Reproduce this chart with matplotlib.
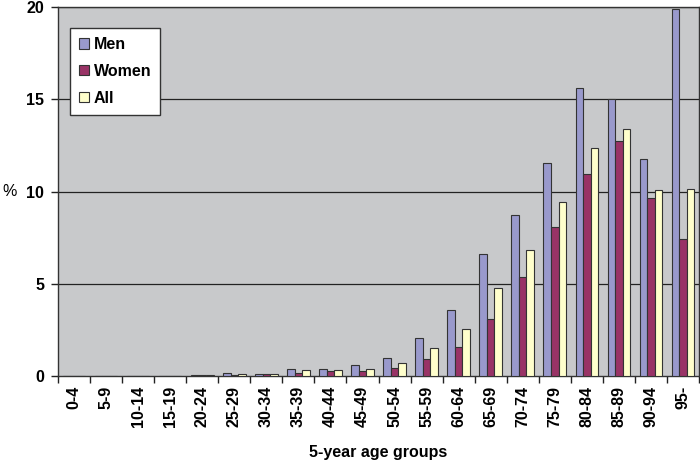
import matplotlib
matplotlib.use("Agg")
import matplotlib.pyplot as plt
import numpy as np

categories = ["0-4", "5-9", "10-14", "15-19", "20-24", "25-29", "30-34", "35-39",
              "40-44", "45-49", "50-54", "55-59", "60-64", "65-69", "70-74",
              "75-79", "80-84", "85-89", "90-94", "95-"]
men = [0, 0, 0, 0, 0.05, 0.15, 0.1, 0.38, 0.38, 0.58, 0.98, 2.08, 3.58, 6.62,
       8.71, 11.53, 15.62, 15.0, 11.75, 19.9]
women = [0, 0, 0, 0, 0.03, 0.05, 0.1, 0.15, 0.25, 0.25, 0.43, 0.92, 1.58, 3.07,
         5.37, 8.05, 10.95, 12.75, 9.65, 7.4]
all_ = [0, 0, 0, 0, 0.04, 0.1, 0.12, 0.31, 0.31, 0.36, 0.69, 1.53, 2.57, 4.79,
        6.83, 9.42, 12.37, 13.37, 10.08, 10.16]
series_names = ["Men", "Women", "All"]
yticks = [0, 5, 10, 15, 20]

plt.rcParams['font.family'] = ['Liberation Sans', 'DejaVu Sans']
FS = 11.5

fig = plt.figure(figsize=(7, 4.63), dpi=100)
ax = fig.add_axes([58/700, 87/463, 641/700, 369/463])
ax.set_facecolor("#C8C9CB")

x = np.arange(len(categories))
w = 0.235
colors = ["#9999CC", "#993366", "#FFFFCC"]
for i, (vals, name) in enumerate(zip([men, women, all_], series_names)):
    ax.bar(x + (i - 1) * w, vals, width=w, color=colors[i], edgecolor="#333333",
           linewidth=0.8, label=name, zorder=3)

ax.set_xlim(-0.5, len(categories) - 0.5)
ax.set_ylim(0, 20)
ax.set_yticks(yticks)
ax.set_yticklabels([str(v) for v in yticks], fontsize=FS, fontweight="bold")
for v in yticks[1:]:
    ax.axhline(v, color="#222222", linewidth=0.9, zorder=1)

ax.set_xticks(x)
ax.set_xticklabels(categories, rotation=90, fontsize=FS, fontweight="bold")
ax.tick_params(axis="x", which="major", length=0, pad=7)
ax.set_xticks(np.arange(-0.5, len(categories)), minor=True)
ax.tick_params(axis="x", which="minor", length=5, width=1, color="#222222")
ax.tick_params(axis="y", length=5, width=1, color="#222222", pad=5)

for s in ["left", "bottom", "top", "right"]:
    ax.spines[s].set_color("#333333")
    ax.spines[s].set_linewidth(1)

fig.text(378/700, 1 - 452/463, "5-year age groups", fontsize=FS,
         fontweight="bold", ha="center", va="center")
fig.text(10/700, 1 - 191/463, "%", fontsize=FS, ha="center", va="center")

leg = ax.legend(loc="upper left", bbox_to_anchor=(12/641, 1 - 21/369),
                prop={"weight": "bold", "size": FS},
                frameon=True, fancybox=False, edgecolor="#333333", framealpha=1,
                handlelength=0.65, handleheight=0.65, handletextpad=0.3,
                labelspacing=0.75, borderpad=0.55, borderaxespad=0)
leg.get_frame().set_linewidth(1)
leg.get_frame().set_facecolor("white")

fig.savefig("out.png", dpi=100)
